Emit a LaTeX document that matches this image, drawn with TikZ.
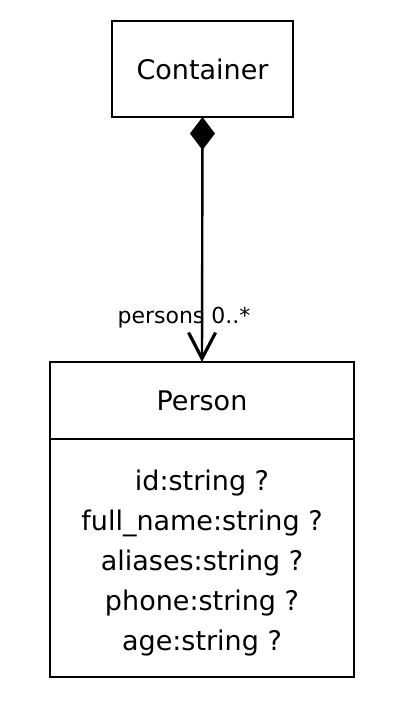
\documentclass[tikz,border=0pt]{standalone}
\usepackage{fontspec}
\setmainfont{DejaVu Sans}
\usetikzlibrary{arrows.meta,positioning}

\begin{document}
\begin{tikzpicture}[x=1pt,y=-1pt,line width=2.4pt,every node/.style={font=\fontsize{27}{40}\selectfont}]
\tikzset{classbox/.style={draw,minimum width=304pt,inner sep=0pt,outer sep=0pt,align=center},
  rolelabel/.style={font=\fontsize{22}{24}\selectfont,inner sep=0pt}}
\useasboundingbox (0,0) rectangle (400,702);
\node[draw,minimum width=181pt,minimum height=96pt,inner sep=0pt,outer sep=0pt] (container) at (202.5,69) {Container};
\node[classbox,minimum height=77pt] (person) at (202,400.5) {Person};
\node[classbox,minimum height=238pt,text height=191pt,below=0pt of person] (attrs) {id:string ?\\full\_name:string ?\\aliases:string ?\\phone:string ?\\age:string ?};
\draw[{Diamond[length=33pt,width=25pt]}-{Straight Barb[length=26pt,width=27pt,line width=3.2pt]}] (container.south) -- (person.north);
\node[rolelabel] (role) at (184,318) {persons 0..*};
\end{tikzpicture}
\end{document}
